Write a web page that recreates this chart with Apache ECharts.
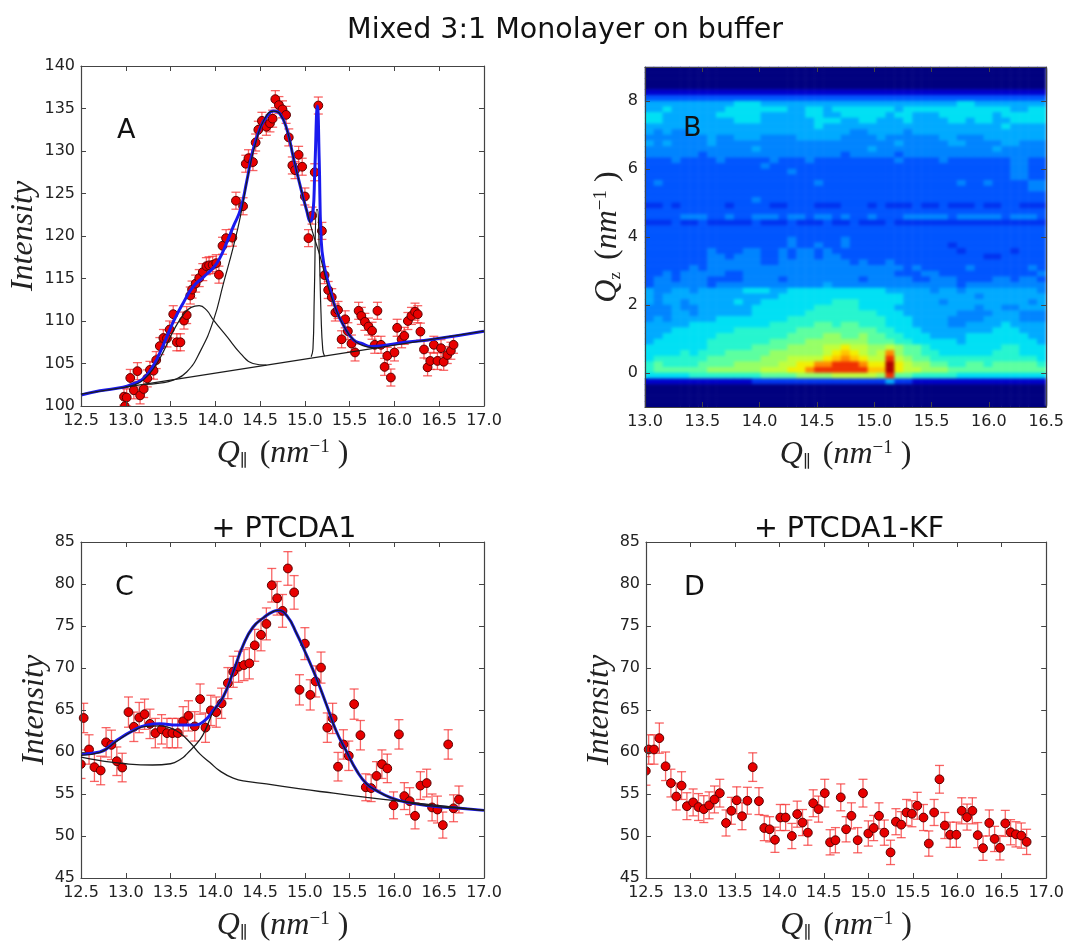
<!DOCTYPE html>
<html><head><meta charset="utf-8">
<style>html,body{margin:0;padding:0;background:#fff}#c{width:1067px;height:943px;filter:blur(0.45px)}</style>
<script src="https://cdn.jsdelivr.net/npm/echarts@6/dist/echarts.min.js"></script>
</head><body><div id="c"></div>
<script>
// ---------- Panel A ----------
const qA=[12.98,13.01,13.05,13.09,13.13,13.16,13.2,13.24,13.27,13.31,13.34,13.38,13.42,13.46,13.49,13.53,13.57,13.61,13.65,13.68,13.72,13.74,13.78,13.82,13.86,13.9,13.93,13.97,14.01,14.04,14.08,14.12,14.19,14.23,14.31,14.34,14.37,14.42,14.45,14.48,14.52,14.57,14.61,14.64,14.67,14.71,14.75,14.79,14.82,14.86,14.89,14.93,14.97,15.0,15.04,15.08,15.11,15.15,15.19,15.22,15.26,15.3,15.34,15.37,15.41,15.45,15.48,15.52,15.56,15.6,15.63,15.67,15.71,15.75,15.78,15.81,15.85,15.89,15.92,15.96,16.0,16.03,16.08,16.11,16.15,16.19,16.23,16.26,16.29,16.33,16.37,16.4,16.44,16.48,16.52,16.55,16.59,16.63,16.66];
const yA=[101.1,101.0,103.3,101.85,104.1,101.25,102.0,103.25,104.25,104.15,105.4,107.05,108,107.95,109,110.8,107.5,107.5,110.05,110.7,113,113.7,114.4,115.05,115.75,116.45,116.55,116.6,116.8,115.45,118.85,119.75,119.8,124.15,123.5,128.5,129.15,128.7,131,132.5,133.55,132.85,133.25,133.8,136.1,135.4,134.9,134.25,131.6,128.3,127.75,129.55,128.15,124.65,119.75,122.4,127.5,135.35,120.6,115.4,113.65,112.8,111,111.3,107.85,110.2,108.8,107.35,106.3,111.2,110.6,109.9,109.35,108.85,107.2,111.2,107.2,104.6,105.9,103.35,106.3,109.2,107.85,108.25,110,110.6,111.1,110.8,108.75,106.65,104.55,105.3,107.2,105.3,106.8,105.2,106,106.5,107.2];
const errA=1.0;
const edgeA=[[12.99,100.0]];
const fitA=[[12.5,101.3],[12.71,101.8],[12.97,102.2],[13.08,102.6],[13.2,103.25],[13.31,104.8],[13.42,107.2],[13.53,109.9],[13.64,112.1],[13.75,114],[13.87,115.2],[13.98,116.3],[14.05,117.4],[14.13,119.3],[14.2,121.1],[14.28,123.1],[14.35,126.4],[14.42,130.1],[14.5,132.7],[14.57,134],[14.65,134.7],[14.72,134.4],[14.8,132.5],[14.87,129.3],[14.95,125.8],[15.02,123],[15.06,121.7],[15.09,122.7],[15.11,127.5],[15.14,135.3],[15.16,128.9],[15.18,119.9],[15.21,116.8],[15.28,113.8],[15.35,111.3],[15.43,109.5],[15.54,107.8],[15.65,107.3],[15.73,107],[15.84,107.05],[16.06,107.4],[16.43,107.85],[17,108.8]];
const baseA=[[12.5,101.4],[17,108.8]];
const peak1A=[[13.0,102.25],[13.1,102.5],[13.2,103.1],[13.31,104.4],[13.42,106.4],[13.53,108.8],[13.64,110.7],[13.73,111.6],[13.82,111.8],[13.9,111.3],[13.98,110.1],[14.13,108.15],[14.28,106.2],[14.42,105],[14.57,104.8]];
const peak2A=[[13.2,102.55],[13.38,102.7],[13.53,103.05],[13.68,104],[13.83,106.4],[13.98,110.1],[14.09,114.4],[14.2,118.7],[14.28,122.3],[14.37,127.4],[14.46,131.3],[14.55,133.8],[14.65,134.7],[14.72,134.4],[14.8,132.5],[14.87,129.3],[14.95,125.8],[15.02,123],[15.09,120.3],[15.17,117.6],[15.26,114],[15.35,111.3],[15.43,109.5],[15.54,107.8],[15.65,107.1],[15.73,106.9],[15.8,106.8]];
const peak3A=[[15.07,105.8],[15.09,106.7],[15.105,113],[15.13,123.1],[15.14,123.1],[15.16,118.4],[15.18,110.9],[15.2,106.6],[15.22,105.85]];
// ---------- Panel C ----------
const qC=[12.53,12.59,12.65,12.72,12.78,12.84,12.90,12.96,13.03,13.09,13.15,13.21,13.27,13.33,13.40,13.46,13.52,13.58,13.64,13.70,13.77,13.83,13.89,13.95,14.01,14.07,14.14,14.20,14.26,14.32,14.38,14.44,14.51,14.57,14.63,14.69,14.75,14.81,14.88,14.94,15.00,15.06,15.12,15.18,15.25,15.31,15.37,15.43,15.49,15.55,15.62,15.68,15.74,15.80,15.86,15.92,15.99,16.05,16.11,16.17,16.23,16.29,16.36,16.42,16.48,16.54,16.60,16.66,16.72];
const yC=[64.05,60.3,58.2,57.8,61.15,60.85,58.9,58.15,64.75,63,64.1,64.5,63.35,62.25,62.7,62.25,62.25,62.25,63.65,64.3,63.05,66.3,62.9,64.95,64.75,65.8,68.2,69.55,70.15,70.35,70.55,72.7,73.95,75.25,79.85,78.3,76.8,81.85,79,67.4,72.9,66.8,68.4,70.05,62.9,64,58.25,60.9,59.55,65.7,62,55.8,55.7,57.15,58.55,58.05,53.65,62.1,54.75,54.15,52.4,56,56.3,53.4,53.15,51.3,60.9,53.3,54.35];
const errC=[1.75,1.75,1.7,1.7,1.75,1.75,1.7,1.7,1.8,1.75,1.8,1.8,1.75,1.75,1.75,1.75,1.75,1.75,1.75,1.8,1.75,1.8,1.75,1.8,1.8,1.8,1.85,1.85,1.85,1.85,1.85,1.9,1.9,1.9,2.0,2.0,1.95,2.0,2.0,1.8,1.9,1.8,1.85,1.85,1.75,1.8,1.7,1.75,1.75,1.8,1.75,1.6,1.6,1.7,1.7,1.7,1.6,1.75,1.6,1.6,1.55,1.65,1.65,1.6,1.6,1.55,1.75,1.6,1.6];
const edgeC=[[12.5,58.55,1.7]];
const fitC=[[12.5,59.75],[12.71,60],[12.9,61.4],[13.08,62.55],[13.23,63.2],[13.38,63.35],[13.57,63.2],[13.75,63.2],[13.87,63.65],[13.98,65],[14.09,66.6],[14.2,69.55],[14.31,72.7],[14.42,74.85],[14.54,76],[14.65,76.75],[14.7,76.85],[14.8,76.2],[14.91,74.05],[15.02,71.5],[15.13,68.75],[15.24,65.65],[15.35,62.5],[15.47,59.95],[15.58,57.75],[15.69,56.2],[15.8,55.4],[15.95,54.6],[16.14,54],[16.43,53.55],[16.73,53.3],[17,53.05]];
const comp1C=[[12.5,59.4],[12.7,59],[13,58.6],[13.3,58.45],[13.5,58.6],[13.62,59.2],[13.68,59.75],[13.83,61.5],[13.9,62.9],[13.98,64.85],[14.09,66.6],[14.2,69.55],[14.31,72.7],[14.42,74.85],[14.54,76],[14.65,76.75],[14.7,76.85],[14.8,76.2],[14.91,74.05],[15.02,71.5],[15.13,68.75],[15.24,65.65],[15.35,62.5],[15.47,59.95],[15.58,57.75],[15.69,56.2],[15.8,55.4],[15.95,54.6],[16.14,54],[16.43,53.55],[16.73,53.3],[17,53.05]];
const comp2C=[[12.5,59.6],[12.71,59.95],[12.9,61.3],[13.08,62.5],[13.23,63.05],[13.38,63.1],[13.49,62.9],[13.6,62.3],[13.72,61.1],[13.83,59.75],[13.94,58.75],[14.05,57.75],[14.2,56.9],[14.35,56.5],[14.57,56.2],[14.95,55.6],[15.32,55.1],[15.69,54.6],[16.06,54.15],[16.43,53.7],[17,53.05]];
// ---------- Panel D ----------
const qD=[12.53,12.59,12.65,12.72,12.78,12.84,12.90,12.96,13.03,13.09,13.15,13.21,13.27,13.33,13.40,13.46,13.52,13.58,13.64,13.70,13.77,13.83,13.89,13.95,14.01,14.07,14.14,14.20,14.26,14.32,14.38,14.44,14.51,14.57,14.63,14.69,14.75,14.81,14.88,14.94,15.00,15.06,15.12,15.18,15.25,15.31,15.37,15.43,15.49,15.55,15.62,15.68,15.74,15.80,15.86,15.92,15.99,16.05,16.11,16.17,16.23,16.29,16.36,16.42,16.48,16.54,16.60,16.66,16.72,16.78];
const yD=[60.3,60.3,61.65,58.3,56.3,54.7,56,53.55,54,53.45,53.2,53.65,54.35,55.1,51.55,53,54.25,52.35,54.2,58.2,54.15,50.95,50.8,49.55,52.2,52.2,50,52.6,51.6,50.4,53.9,53.2,55.1,49.25,49.5,54.6,50.8,52.4,49.5,55.1,50.3,50.95,52.4,50.4,48.05,51.7,51.35,52.8,52.65,53.6,52.2,49.1,52.8,56.75,51.25,50.15,50.15,53,52.25,53,50.1,48.55,51.55,49.65,48.6,51.5,50.45,50.2,50.05,49.3];
const errD=[1.75,1.75,1.8,1.7,1.65,1.6,1.65,1.6,1.6,1.6,1.6,1.6,1.6,1.65,1.55,1.6,1.6,1.6,1.6,1.7,1.6,1.5,1.5,1.5,1.55,1.55,1.5,1.55,1.55,1.5,1.6,1.55,1.65,1.5,1.5,1.6,1.5,1.55,1.5,1.65,1.5,1.5,1.55,1.5,1.45,1.55,1.55,1.55,1.55,1.6,1.55,1.5,1.55,1.65,1.55,1.5,1.5,1.55,1.55,1.55,1.5,1.45,1.55,1.5,1.45,1.55,1.5,1.5,1.5,1.5];
const edgeD=[[12.5,57.75,1.7]];
// ---------- Panel B: contour levels, top row first, one hex digit per cell ----------
const bColors=['#00007f','#0000cc','#0033f0','#0055ff','#0084ff','#00aaff','#00e0f4','#26f5cf','#5cffa0','#96ff66','#c0ff3c','#f2f000','#ffc400','#ff8a00','#f03000','#b00000'];
const bRows=[
'00000 00000 00000 00000 00000 00000 00000 00000 00000',
'00000 00000 00000 00000 00000 00000 00000 00000 00000',
'00000 00000 00000 00000 00000 00000 00000 00000 00000',
'00000 00000 00000 00000 00000 00000 00000 00000 00000',
'11111 11111 11111 11111 11111 11111 11111 11111 11111',
'33333 33333 33333 33333 33333 33333 33333 33333 33333',
'55555 55555 66655 55555 55555 55555 55555 66555 55555',
'55655 55556 66666 65566 56666 66656 66666 66666 65566',
'66555 55566 66655 55566 55666 66566 55566 66665 66666',
'66555 55555 66655 55556 66556 65556 55556 65665 56666',
'55555 55555 55555 55556 55555 55555 55555 55555 65555',
'54544 55555 55555 55555 55544 55554 55555 55555 55555',
'44444 44544 55544 44555 55444 45444 44455 44455 55555',
'54544 44544 44444 44444 44444 44454 44445 54444 55444',
'44444 44444 44544 44444 44444 54444 44444 44445 44444',
'44444 43444 44444 44444 44344 44434 44444 44444 44444',
'33343 33343 33334 33343 33333 33343 33343 33333 34433',
'33333 33333 33343 33333 33333 33333 33333 33333 34433',
'33333 33333 33333 34333 33333 33333 33333 33333 34433',
'33333 33333 33333 33333 33333 33333 33333 33333 34433',
'34333 33333 33333 33334 33333 33333 33333 43343 33344',
'33333 33333 33333 33333 33333 33333 33333 33333 33344',
'33333 33333 33333 33333 33333 33333 33333 33333 33333',
'33333 33333 33433 33333 33333 33333 33333 33333 33333',
'22323 33332 33332 23332 22333 23222 32232 22322 33222',
'33333 33333 33333 33333 33333 33333 33333 33333 33333',
'33334 44334 33444 34434 43433 43334 44443 44444 34443',
'22232 23222 22322 23222 32232 22322 22222 22222 22222',
'33333 33333 33333 33333 33333 33333 33333 33333 33333',
'33333 33333 33333 33333 33333 33333 33333 33333 33333',
'33333 33333 33333 34333 33433 33333 33333 33333 33333',
'33333 33333 33333 34334 33433 33333 33332 33333 33333',
'33333 33433 34433 43443 43333 33333 33333 23333 32333',
'33333 33443 44433 43443 44333 33333 33333 33322 33333',
'33333 33444 44433 44444 44434 33433 33333 33333 33333',
'33333 43444 44444 44444 44444 44443 43333 34333 33343',
'33434 44443 34444 44444 44444 44433 34433 33333 33334',
'34434 44333 34444 34444 44443 44444 33444 33334 43443',
'34444 44344 44444 44444 54444 44444 44444 34444 44444',
'54455 45555 56665 56666 66666 66555 55455 45555 55554',
'54555 55555 55555 66666 66666 66665 55555 55455 55555',
'54554 55555 65566 66666 67776 66665 55545 55555 55545',
'44454 45555 55666 66667 77776 66655 55555 55455 44555',
'44455 45555 55666 66677 77777 76665 55555 44445 55444',
'45455 55566 66666 67777 77777 77666 55554 44455 55444',
'55555 66666 66667 77778 87887 77666 55554 45555 65555',
'55566 66666 77777 77888 88888 87766 65555 55556 66555',
'55666 66677 77777 78888 99889 88776 66555 56666 66655',
'56666 66777 77778 88899 99999 88877 66666 56666 66665',
'66666 66777 77888 89999 aabaa 99a98 87666 66666 77666',
'66667 67778 88889 99999 abcba 9ad98 87766 66667 77666',
'67777 77888 88899 9aaaa bcdcb aaea9 88777 77777 77776',
'78777 78888 99999 aabbd deeed bbfba 99887 78878 88887',
'78888 88999 999aa abbde eeeee ccfba a9998 88888 88888',
'66666 77777 77788 88999 9aaaa a9e88 77777 66666 66666',
'11111 11111 11222 22222 22222 22522 11111 11111 11111',
'00000 00000 00000 00000 00000 00000 00000 00000 00000',
'00000 00000 00000 00000 00000 00000 00000 00000 00000',
'00000 00000 00000 00000 00000 00000 00000 00000 00000',
'00000 00000 00000 00000 00000 00000 00000 00000 00000'];
// ---------- Tick labels and text ----------
const mainTitle='Mixed 3:1 Monolayer on buffer';
const subTitles=['+ PTCDA1','+ PTCDA1-KF'];
const letters=['A','B','C','D'];
const qzTicks=[0,2,4,6,8];

const SERIF='"Liberation Serif","DejaVu Serif",serif', SANS='"DejaVu Sans",sans-serif';
const rich={
 q:{fontFamily:SERIF,fontStyle:'italic',fontSize:32,color:'#222'},
 i:{fontFamily:SERIF,fontStyle:'italic',fontSize:32,color:'#222'},
 p:{fontFamily:SERIF,fontSize:32,color:'#222'},
 s:{fontFamily:SERIF,fontSize:17,color:'#222',verticalAlign:'bottom',padding:[0,4,0,0]},
 u:{fontFamily:SERIF,fontSize:19,color:'#222',verticalAlign:'top'}
};
const qPar='{q|Q}{s|∥}{p| (}{i|nm}{u|−1}{p| )}';
const qZ='{q|Q}{s|z}{p| (}{i|nm}{u|−1}{p| )}';
const intensity='{q|Intensity}';

const opt={animation:false,backgroundColor:'#fff',grid:[],xAxis:[],yAxis:[],series:[],title:[],graphic:[],
 visualMap:[{show:false,type:'continuous',min:0,max:bColors.length-1,inRange:{color:bColors},seriesIndex:[]}]};
const line={show:true,onZero:false,lineStyle:{color:'#444',width:1.2}};
const tick={show:true,inside:true,length:5,lineStyle:{color:'#444',width:1}};
function panel(box,xr,yr,yname,gap,ytick,zl){
 const g=opt.grid.length;
 opt.grid.push({left:box[0],top:box[1],width:box[2]-box[0],height:box[3]-box[1]});
 const xi=opt.xAxis.length, yi=opt.yAxis.length;
 const xbase={type:'value',gridIndex:g,min:xr[0],max:xr[1],interval:0.5,splitLine:{show:false},axisLine:line,axisTick:tick,z:5,zlevel:zl||0};
 opt.xAxis.push({...xbase,position:'bottom',name:qPar,nameLocation:'middle',nameGap:32,nameTextStyle:{rich},
   axisLabel:{margin:7,fontFamily:SANS,fontSize:16,color:'#222',formatter:v=>v.toFixed(1)}});
 opt.xAxis.push({...xbase,position:'top',axisLabel:{show:false}});
 const ybase={type:'value',gridIndex:g,min:yr[0],max:yr[1],splitLine:{show:false},axisLine:line,z:5,zlevel:zl||0};
 if(ytick){
  opt.yAxis.push({...ybase,position:'left',interval:1,axisTick:{...tick,customValues:ytick},name:yname,nameLocation:'middle',nameRotate:90,nameGap:gap,nameTextStyle:{rich},
    axisLabel:{customValues:ytick,margin:7,fontFamily:SANS,fontSize:16,color:'#222'}});
  opt.yAxis.push({...ybase,position:'right',interval:1,axisTick:{...tick,customValues:ytick},axisLabel:{show:false}});
 }else{
  opt.yAxis.push({...ybase,position:'left',interval:5,axisTick:tick,name:yname,nameLocation:'middle',nameRotate:90,nameGap:gap,nameTextStyle:{rich},
    axisLabel:{margin:6,fontFamily:SANS,fontSize:16,color:'#222'}});
  opt.yAxis.push({...ybase,position:'right',interval:5,axisTick:tick,axisLabel:{show:false}});
 }
 return {g,xi,yi};
}
const renderBar=capW=>(params,api)=>{
 const x=api.value(0),y=api.value(1),e=api.value(2);
 const a=api.coord([x,y+e]),b=api.coord([x,y-e]);
 const style={stroke:'rgba(245,50,50,0.75)',lineWidth:1.3,fill:null};
 return {type:'group',children:[
  {type:'line',shape:{x1:a[0],y1:a[1],x2:b[0],y2:b[1]},style},
  {type:'line',shape:{x1:a[0]-capW,y1:a[1],x2:a[0]+capW,y2:a[1]},style},
  {type:'line',shape:{x1:b[0]-capW,y1:b[1],x2:b[0]+capW,y2:b[1]},style}]};
};
const renderEdgeDot=(params,api)=>{
 const p=api.coord([api.value(0),api.value(1)]);
 return {type:'circle',shape:{cx:p[0],cy:p[1],r:4.2},style:{fill:'#e80000',stroke:'#5a0000',lineWidth:1}};
};
function points(ax,qs,ys,errs,edge,edgeErr){
 const bars=qs.map((q,i)=>[q,ys[i],Array.isArray(errs)?errs[i]:errs]).concat(edge.map(e=>[e[0],e[1],e[2]||edgeErr]));
 opt.series.push({type:'custom',name:'error bars',xAxisIndex:ax.xi,yAxisIndex:ax.yi,clip:true,data:bars,renderItem:renderBar(4.5),encode:{x:0,y:1},z:2});
 opt.series.push({type:'scatter',name:'data',xAxisIndex:ax.xi,yAxisIndex:ax.yi,data:qs.map((q,i)=>[q,ys[i]]),symbolSize:8.8,itemStyle:{color:'#e80000',borderColor:'#5a0000',borderWidth:1,opacity:1},z:3});
 opt.series.push({type:'custom',name:'edge data',xAxisIndex:ax.xi,yAxisIndex:ax.yi,clip:true,data:edge.map(e=>[e[0],e[1]]),renderItem:renderEdgeDot,encode:{x:0,y:1},z:3});
}
function curve(ax,data,color,width,z,name){
 opt.series.push({type:'line',name,xAxisIndex:ax.xi,yAxisIndex:ax.yi,data,showSymbol:false,symbol:'none',smooth:0.5,lineStyle:{color,width},z,clip:true});
}
// A
const A=panel([81,66,484,406],[12.5,17],[100,140],intensity,41);
points(A,qA,yA,errA,edgeA,errA);
curve(A,fitA,'#1a1aee',3,4,'fit');
[baseA,peak1A,peak2A,peak3A].forEach((d,i)=>curve(A,d,'#1c1c1c',1.2,5,'component '+(i+1)));
// B
const B=panel([645,67,1049,407],[13,16.5],[-1,9],qZ,21,qzTicks,2);
const nCols=bRows[0].replace(/ /g,'').length;
opt.xAxis.push({type:'category',gridIndex:B.g,show:false,data:Array.from({length:nCols},(_,i)=>i)});
opt.yAxis.push({type:'category',gridIndex:B.g,show:false,inverse:true,data:bRows.map((_,i)=>i)});
const heat=[];
bRows.forEach((row,r)=>{const s=row.replace(/ /g,'');for(let c=0;c<nCols;c++)heat.push([c,r,parseInt(s[c]||s[s.length-1],16)]);});
opt.visualMap[0].seriesIndex=[opt.series.length];
opt.series.push({type:'heatmap',name:'contour',xAxisIndex:opt.xAxis.length-1,yAxisIndex:opt.yAxis.length-1,data:heat,progressive:0,itemStyle:{borderWidth:0},z:1});
// C
const C=panel([81,542,484,882],[12.5,17],[45,85],intensity,29);
points(C,qC,yC,errC,edgeC,1.7);
curve(C,fitC,'#1a1aee',3,4,'fit');
curve(C,comp1C,'#1c1c1c',1.3,5,'component 1');
curve(C,comp2C,'#1c1c1c',1.3,5,'component 2');
// D
const D=panel([646,542,1049,882],[12.5,17],[45,85],intensity,30);
points(D,qD,yD,errD,edgeD,1.7);
// text
opt.title=[
 {text:mainTitle,left:560,top:11,textAlign:'center',textStyle:{fontFamily:SANS,fontWeight:'normal',fontSize:28.5,color:'#111'}},
 {text:subTitles[0],left:279,top:510,textAlign:'center',textStyle:{fontFamily:SANS,fontWeight:'normal',fontSize:28.5,color:'#111'}},
 {text:subTitles[1],left:844,top:510,textAlign:'center',textStyle:{fontFamily:SANS,fontWeight:'normal',fontSize:28.5,color:'#111'}}];
const letterPos=[[117,117],[683,115],[115,574],[684,574]];
opt.graphic=letters.map((t,i)=>({type:'text',left:letterPos[i][0],top:letterPos[i][1],z:20,zlevel:2,style:{text:t,fontFamily:SANS,fontSize:27,fill:'#111'}}));
const chart=echarts.init(document.getElementById('c'),null,{renderer:'canvas'});
chart.setOption(opt);
// soften the contour cells the way the reference picture is soft, leaving axes and text on the upper layer sharp
const canv=chart.getDom().querySelectorAll('canvas');
if(canv.length>1){
 const soft=document.createElement('div');
 soft.style.cssText='position:absolute;left:646px;top:68px;width:402px;height:338px;backdrop-filter:blur(1.7px);-webkit-backdrop-filter:blur(1.7px)';
 canv[1].parentNode.insertBefore(soft,canv[1]);
}
</script></body></html>
